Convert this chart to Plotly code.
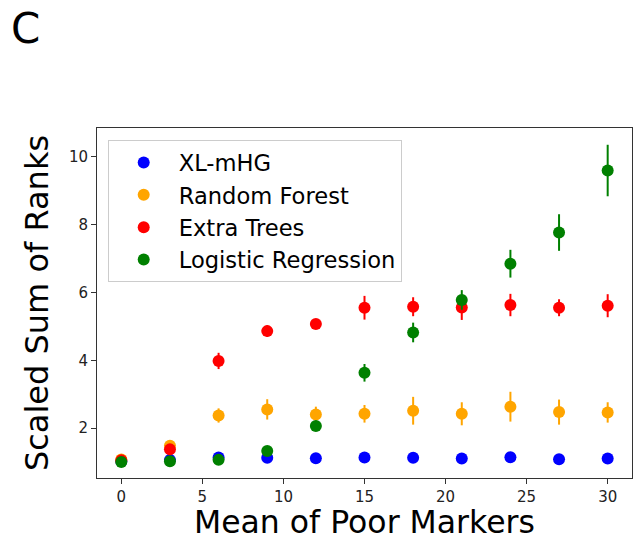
import plotly.graph_objects as go

x_vals = [0, 3, 6, 9, 12, 15, 18, 21, 24, 27, 30]

xlmhg_mean = [1.02, 1.06, 1.13, 1.12, 1.11, 1.13, 1.12, 1.10, 1.14, 1.08, 1.10]
xlmhg_err = [0.02, 0.03, 0.04, 0.04, 0.03, 0.04, 0.03, 0.03, 0.04, 0.03, 0.03]

rf_mean = [1.07, 1.48, 2.37, 2.55, 2.40, 2.42, 2.51, 2.42, 2.63, 2.47, 2.46]
rf_err = [0.03, 0.08, 0.21, 0.30, 0.23, 0.26, 0.41, 0.34, 0.44, 0.37, 0.30]

et_mean = [1.05, 1.37, 3.98, 4.86, 5.07, 5.55, 5.58, 5.56, 5.63, 5.55, 5.61]
et_err = [0.03, 0.06, 0.24, 0.17, 0.06, 0.35, 0.28, 0.37, 0.33, 0.25, 0.34]

lr_mean = [1.00, 1.02, 1.06, 1.32, 2.06, 3.63, 4.82, 5.78, 6.85, 7.77, 9.60]
lr_err = [0.02, 0.02, 0.03, 0.05, 0.05, 0.26, 0.29, 0.29, 0.41, 0.54, 0.76]

series = [
    ("XL-mHG", xlmhg_mean, xlmhg_err, "blue"),
    ("Random Forest", rf_mean, rf_err, "orange"),
    ("Extra Trees", et_mean, et_err, "red"),
    ("Logistic Regression", lr_mean, lr_err, "green"),
]

FONT = "DejaVu Sans"

fig = go.Figure()
for name, m, e, c in series:
    fig.add_trace(go.Scatter(
        x=x_vals, y=m, mode="markers", name=name,
        marker=dict(color=c, size=12, line=dict(width=0)),
        error_y=dict(type="data", array=e, visible=True, color=c,
                     thickness=2, width=0),
    ))

axis_common = dict(
    showline=True, linecolor="#333333", linewidth=1, mirror=True,
    ticks="outside", ticklen=5, tickwidth=1, tickcolor="#333333",
    showgrid=False, zeroline=False,
    tickfont=dict(family=FONT, size=15, color="#222222"),
)

fig.update_layout(
    width=633, height=540,
    paper_bgcolor="white", plot_bgcolor="white",
    margin=dict(l=97, r=1, t=128, b=62),
    font=dict(family=FONT, color="black"),
    xaxis=dict(range=[-1.5, 31.5], tickvals=[0, 5, 10, 15, 20, 25, 30],
               automargin=False, **axis_common),
    yaxis=dict(range=[0.525, 10.855], tickvals=[2, 4, 6, 8, 10],
               title=dict(text="Scaled Sum of Ranks",
                          font=dict(family=FONT, size=32), standoff=10),
               **axis_common),
    legend=dict(
        x=0.02, y=0.965, xanchor="left", yanchor="top",
        bgcolor="rgba(255,255,255,0.8)", bordercolor="#cccccc", borderwidth=1,
        font=dict(family=FONT, size=22.6, color="black"),
        itemwidth=60, tracegroupgap=0,
    ),
    showlegend=True,
    annotations=[
        dict(text="C", xref="paper", yref="paper", x=-0.165, y=1.283,
             xanchor="left", yanchor="middle", showarrow=False,
             font=dict(family=FONT, size=42, color="black")),
        dict(text="Mean of Poor Markers", xref="paper", yref="paper",
             x=0.5, y=-0.127, xanchor="center", yanchor="middle",
             showarrow=False, borderpad=0,
             font=dict(family=FONT, size=31.5, color="black")),
    ],
)

fig.write_html("out.html", config={"displayModeBar": False},
               post_script="document.body.style.margin='0px';")
